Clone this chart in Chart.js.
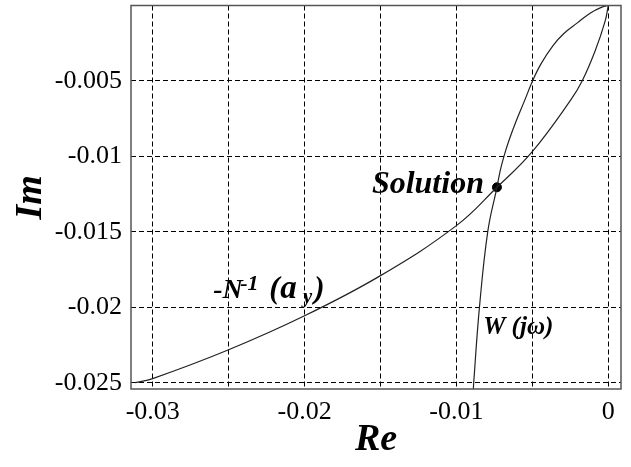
<!DOCTYPE html>
<html>
<head>
<meta charset="utf-8">
<script src="https://cdn.jsdelivr.net/npm/chart.js@4"></script>
<style>
  html, body { margin: 0; padding: 0; background: #fff; }
  #wrap { width: 631px; height: 467px; }
</style>
</head>
<body>
<div id="wrap"><canvas id="nyquist" width="631" height="467"></canvas></div>
<script>
// -N^-1(a_y) curve
const nRe = [-0.03116, -0.0300, -0.0250, -0.0200, -0.0150, -0.0100, -0.00733, -0.00503, -0.00250, -0.00171, -0.00086, -0.00020, 0];
const nIm = [-0.02498, -0.02471, -0.02280, -0.02055, -0.01789, -0.01458, -0.01204, -0.00971, -0.00630, -0.00498, -0.00300, -0.00102, 0];

// W(jw) curve
const wRe = [-0.00889, -0.00886, -0.00848, -0.00793, -0.00733, -0.00711, -0.00685, -0.00654, -0.00605, -0.00551, -0.00498, -0.00442, -0.00365, -0.00294, -0.00203, -0.00117, -0.00038, 0];
const wIm = [-0.02557, -0.02498, -0.01996, -0.01494, -0.01204, -0.01092, -0.00993, -0.00894, -0.00762, -0.00630, -0.00498, -0.00385, -0.00267, -0.00187, -0.00115, -0.00049, -0.00009, 0];

// intersection point
const solutionRe = [-0.00733];
const solutionIm = [-0.01204];

// axes
const xTicks = [-0.03, -0.025, -0.02, -0.015, -0.01, -0.005, 0];
const xTickLabels = ['-0.03', '', '-0.02', '', '-0.01', '', '0'];
const yTicks = [-0.025, -0.02, -0.015, -0.01, -0.005];
const yTickLabels = ['-0.025', '-0.02', '-0.015', '-0.01', '-0.005'];

const SERIF = '"Liberation Serif", "Times New Roman", serif';

function toPoints(xs, ys) {
    return xs.map((x, i) => ({ x: x, y: ys[i] }));
}

// draws text pieces at offsets from a start point (for super/subscripts)
function drawRuns(ctx, x, y, runs) {
    runs.forEach(r => {
        ctx.font = 'bold italic ' + r.size + 'px ' + SERIF;
        ctx.fillText(r.text, x + r.dx, y + (r.dy || 0));
    });
}

const annotations = {
    id: 'annotations',
    afterDraw(chart) {
        const ctx = chart.ctx;
        const a = chart.chartArea;
        const xs = chart.scales.x;
        const ys = chart.scales.y;

        // frame
        ctx.save();
        ctx.strokeStyle = '#555';
        ctx.lineWidth = 1.5;
        ctx.strokeRect(a.left, a.top, a.right - a.left, a.bottom - a.top);
        ctx.restore();

        ctx.save();
        ctx.fillStyle = '#000';
        ctx.textBaseline = 'alphabetic';

        // Solution
        ctx.font = 'bold italic 32px ' + SERIF;
        ctx.textAlign = 'right';
        ctx.fillText('Solution', xs.getPixelForValue(solutionRe[0]) - 13, ys.getPixelForValue(solutionIm[0]) + 6);

        // -N^-1(a_y)
        ctx.textAlign = 'left';
        drawRuns(ctx, xs.getPixelForValue(-0.02602), ys.getPixelForValue(-0.01937), [
            { text: '-N', size: 28, dx: 0 },
            { text: '-1', size: 22, dx: 27, dy: -8 },
            { text: '(', size: 31, dx: 56 },
            { text: 'a', size: 33, dx: 67 },
            { text: 'y', size: 20, dx: 90, dy: 5 },
            { text: ')', size: 31, dx: 101 }
        ]);

        // W(jw)
        ctx.font = 'bold italic 25px ' + SERIF;
        ctx.fillText('W (j\u03c9)', xs.getPixelForValue(-0.00824), ys.getPixelForValue(-0.02174));
        ctx.restore();
    }
};

const tickFont = { family: SERIF, size: 26 };
const titleFont = { family: SERIF, size: 38, weight: 'bold', style: 'italic' };

new Chart(document.getElementById('nyquist'), {
    type: 'scatter',
    data: {
        datasets: [
            {
                label: '-N^-1(a_y)',
                data: toPoints(nRe, nIm),
                showLine: true,
                borderColor: '#222',
                borderWidth: 1.2,
                pointRadius: 0,
                tension: 0.4
            },
            {
                label: 'W(jw)',
                data: toPoints(wRe, wIm),
                showLine: true,
                borderColor: '#222',
                borderWidth: 1.2,
                pointRadius: 0,
                tension: 0.4
            },
            {
                label: 'Solution',
                data: toPoints(solutionRe, solutionIm),
                pointRadius: 4.5,
                backgroundColor: '#000',
                borderColor: '#000'
            }
        ]
    },
    options: {
        responsive: false,
        animation: false,
        devicePixelRatio: 1,
        layout: { padding: { top: 5, right: 10, left: 0, bottom: 0 } },
        plugins: {
            legend: { display: false },
            tooltip: { enabled: false }
        },
        scales: {
            x: {
                type: 'linear',
                min: -0.03143,
                max: 0.00084,
                afterBuildTicks: s => { s.ticks = xTicks.map(v => ({ value: v })); },
                afterFit: s => { s.height = 78; s.paddingLeft = 0; s.paddingRight = 0; },
                grid: { color: '#000', lineWidth: 1, drawTicks: false },
                border: { display: false, dash: [5, 3] },
                ticks: {
                    color: '#000',
                    font: tickFont,
                    padding: 8,
                    maxRotation: 0,
                    autoSkip: false,
                    callback: (v, i) => xTickLabels[i]
                },
                title: {
                    display: true,
                    text: 'Re',
                    color: '#000',
                    font: titleFont,
                    padding: { top: 0, bottom: 4 }
                }
            },
            y: {
                type: 'linear',
                min: -0.0254,
                max: 0,
                afterBuildTicks: s => { s.ticks = yTicks.map(v => ({ value: v })); },
                afterFit: s => { s.width = 131; s.paddingTop = 0; s.paddingBottom = 0; },
                grid: { color: '#000', lineWidth: 1, drawTicks: false },
                border: { display: false, dash: [5, 3] },
                ticks: {
                    color: '#000',
                    font: tickFont,
                    padding: 9,
                    autoSkip: false,
                    callback: (v, i) => yTickLabels[i]
                },
                title: {
                    display: true,
                    text: 'Im',
                    color: '#000',
                    font: titleFont,
                    padding: { top: 8, bottom: 0 }
                }
            }
        }
    },
    plugins: [annotations]
});
</script>
</body>
</html>
